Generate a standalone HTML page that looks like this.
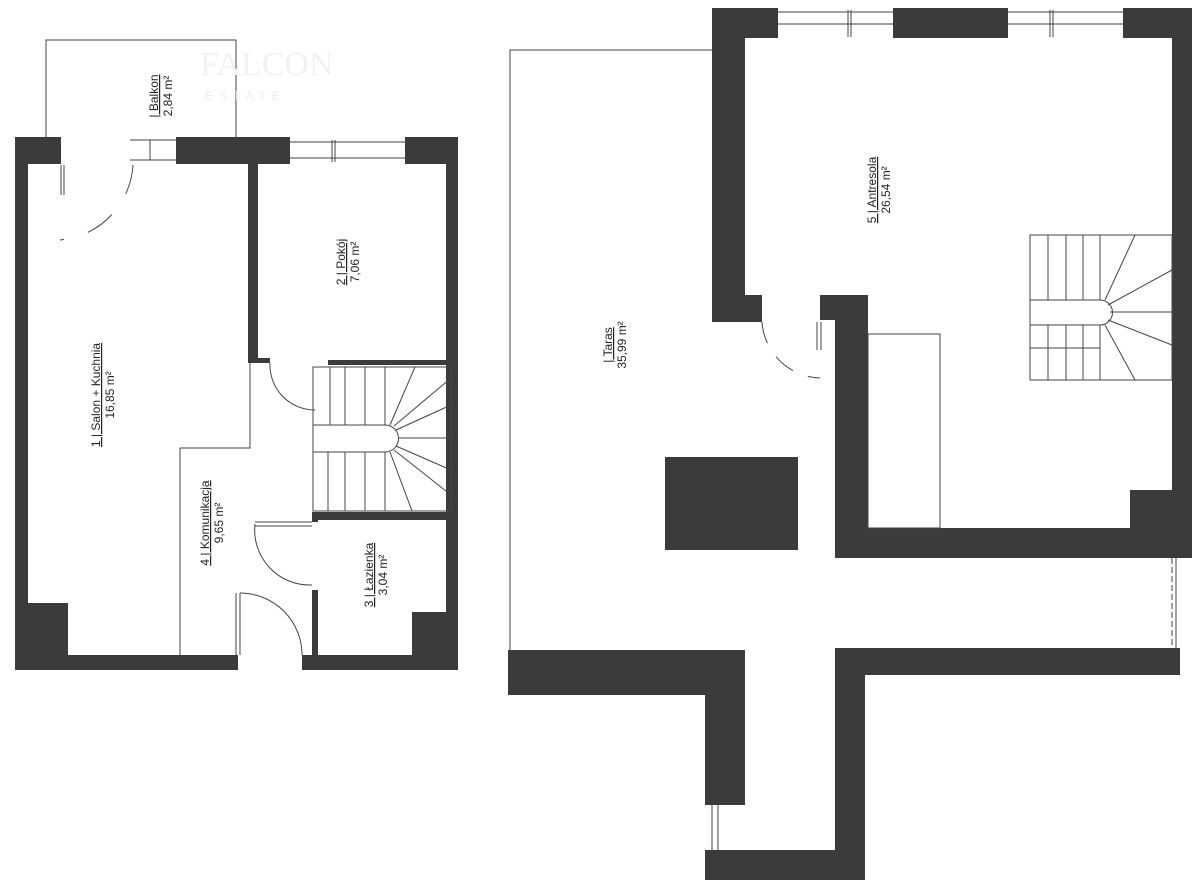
<!DOCTYPE html>
<html><head><meta charset="utf-8"><style>
html,body{margin:0;padding:0;background:#fff;}
svg{display:block;}
text{font-family:"Liberation Sans",sans-serif;font-size:12px;fill:#222;}
</style></head><body>
<svg width="1200" height="893" viewBox="0 0 1200 893" xmlns="http://www.w3.org/2000/svg">
<rect width="1200" height="893" fill="#fff"/>
<g fill="#3b3b3b">
<!-- LEFT PLAN -->
<rect x="15" y="137" width="46" height="27"/>
<rect x="15" y="137" width="13" height="533"/>
<rect x="176" y="137" width="114" height="27"/>
<rect x="405" y="137" width="53" height="27"/>
<rect x="446" y="137" width="12" height="523"/>
<rect x="15" y="603" width="53" height="67"/>
<rect x="15" y="655" width="223" height="15"/>
<rect x="302" y="655" width="156" height="15"/>
<rect x="412" y="612" width="46" height="48"/>
<rect x="248" y="164" width="10" height="198"/>
<rect x="248" y="358" width="22" height="5"/>
<rect x="328" y="360" width="130" height="5"/>
<rect x="312" y="512" width="146" height="8"/>
<rect x="312" y="512" width="6" height="10"/>
<rect x="312" y="590" width="6" height="70"/>
<!-- RIGHT PLAN -->
<rect x="712" y="8" width="66" height="30"/>
<rect x="893" y="8" width="115" height="30"/>
<rect x="1123" y="8" width="69" height="30"/>
<rect x="712" y="8" width="33" height="314"/>
<rect x="712" y="295" width="50" height="27"/>
<rect x="1172" y="8" width="20" height="550"/>
<rect x="820" y="295" width="48" height="25"/>
<rect x="835" y="295" width="33" height="263"/>
<rect x="835" y="528" width="350" height="30"/>
<rect x="1130" y="490" width="55" height="40"/>
<rect x="665" y="457" width="133" height="93"/>
<rect x="508" y="650" width="237" height="45"/>
<rect x="705" y="650" width="40" height="155"/>
<rect x="705" y="850" width="160" height="30"/>
<rect x="835" y="648" width="30" height="232"/>
<rect x="835" y="648" width="345" height="27"/>
</g>
<g fill="none" stroke="#444" stroke-width="1">
<!-- balcony -->
<polyline points="46,137 46,40 236,40 236,137"/>
<line x1="130" y1="140" x2="176" y2="140"/><line x1="130" y1="160" x2="176" y2="160"/>
<line x1="150" y1="140" x2="150" y2="160"/>
<line x1="290" y1="142" x2="405" y2="142"/><line x1="290" y1="158" x2="405" y2="158"/>
<line x1="332" y1="140" x2="332" y2="162"/><line x1="335" y1="140" x2="335" y2="162"/>
<line x1="61" y1="165" x2="61" y2="195"/><line x1="64" y1="165" x2="64" y2="195"/>
<path d="M133 165 A80 80 0 0 1 60 240" stroke-dasharray="30 25"/>
<!-- komunikacja -->
<polyline points="180,655 180,448 250,448 250,363"/>
<!-- stairs left -->
<path d="M270 363 A45 45 0 0 0 315 410"/>
<rect x="313" y="367" width="138" height="144"/>
<line x1="330" y1="367" x2="330" y2="425"/>
<line x1="313" y1="425" x2="385" y2="425"/>
<line x1="313" y1="452" x2="385" y2="452"/>
<path d="M385 425 A13 13 0 0 1 385 452"/>
<line x1="345" y1="367" x2="345" y2="425"/><line x1="365" y1="367" x2="365" y2="425"/><line x1="385" y1="367" x2="385" y2="425"/>
<line x1="328" y1="452" x2="328" y2="511"/><line x1="345" y1="452" x2="345" y2="511"/><line x1="365" y1="452" x2="365" y2="511"/><line x1="385" y1="452" x2="385" y2="511"/>
<line x1="398" y1="438" x2="451" y2="438"/><line x1="396" y1="430" x2="451" y2="405"/><line x1="394" y1="426" x2="451" y2="378"/><line x1="390" y1="425" x2="415" y2="367"/>
<line x1="396" y1="446" x2="451" y2="470"/><line x1="394" y1="450" x2="451" y2="495"/><line x1="390" y1="452" x2="412" y2="511"/>
<!-- bathroom door -->
<line x1="255" y1="522" x2="312" y2="522"/><line x1="255" y1="526" x2="312" y2="526"/>
<path d="M255 524 A55 55 0 0 0 312 585"/>
<line x1="236" y1="593" x2="236" y2="655"/><line x1="240" y1="593" x2="240" y2="655"/>
<path d="M240 593 A62 62 0 0 1 302 655"/>
<!-- RIGHT PLAN -->
<polyline points="510,650 510,50 712,50"/>
<line x1="778" y1="12" x2="893" y2="12"/><line x1="778" y1="24" x2="893" y2="24"/>
<line x1="848" y1="10" x2="848" y2="37"/><line x1="851" y1="10" x2="851" y2="37"/>
<line x1="1008" y1="12" x2="1123" y2="12"/><line x1="1008" y1="24" x2="1123" y2="24"/>
<line x1="1050" y1="10" x2="1050" y2="37"/><line x1="1053" y1="10" x2="1053" y2="37"/>
<line x1="817" y1="322" x2="817" y2="350"/><line x1="821" y1="322" x2="821" y2="350"/>
<path d="M762 322 A60 60 0 0 0 820 378" stroke-dasharray="22 16"/>
<rect x="868" y="334" width="72" height="194"/>
<rect x="1030" y="235" width="142" height="145"/>
<line x1="1030" y1="300" x2="1100" y2="300"/><line x1="1030" y1="325" x2="1100" y2="325"/>
<path d="M1100 300 A12.5 12.5 0 0 1 1100 325"/>
<line x1="1048" y1="235" x2="1048" y2="300"/><line x1="1066" y1="235" x2="1066" y2="300"/><line x1="1083" y1="235" x2="1083" y2="300"/><line x1="1100" y1="235" x2="1100" y2="300"/>
<line x1="1048" y1="325" x2="1048" y2="380"/><line x1="1066" y1="325" x2="1066" y2="380"/><line x1="1083" y1="325" x2="1083" y2="380"/><line x1="1100" y1="325" x2="1100" y2="380"/>
<line x1="1030" y1="348" x2="1100" y2="348"/>
<line x1="1110" y1="312" x2="1172" y2="312"/><line x1="1108" y1="305" x2="1172" y2="270"/><line x1="1105" y1="300" x2="1135" y2="235"/>
<line x1="1108" y1="320" x2="1172" y2="345"/><line x1="1105" y1="325" x2="1135" y2="380"/>
<line x1="1172" y1="558" x2="1172" y2="648" stroke-dasharray="6 3"/><line x1="1176" y1="558" x2="1176" y2="648"/>
<line x1="712" y1="805" x2="712" y2="850"/><line x1="718" y1="805" x2="718" y2="850"/>
</g>
<!-- labels -->
<g transform="translate(100,395) rotate(-90)"><text text-anchor="middle" text-decoration="underline">1 | Salon + Kuchnia</text><text y="14" text-anchor="middle">16,85 m²</text></g>
<g transform="translate(345,262) rotate(-90)"><text text-anchor="middle" text-decoration="underline">2 | Pokój</text><text y="14" text-anchor="middle">7,06 m²</text></g>
<g transform="translate(373,575) rotate(-90)"><text text-anchor="middle" text-decoration="underline">3 | Łazienka</text><text y="14" text-anchor="middle">3,04 m²</text></g>
<g transform="translate(209,523) rotate(-90)"><text text-anchor="middle" text-decoration="underline">4 | Komunikacja</text><text y="14" text-anchor="middle">9,65 m²</text></g>
<g transform="translate(158,96) rotate(-90)"><text text-anchor="middle" text-decoration="underline">| Balkon</text><text y="14" text-anchor="middle">2,84 m²</text></g>
<g transform="translate(876,190) rotate(-90)"><text text-anchor="middle" text-decoration="underline">5 | Antresola</text><text y="14" text-anchor="middle">26,54 m²</text></g>
<g transform="translate(612,345) rotate(-90)"><text text-anchor="middle" text-decoration="underline">| Taras</text><text y="14" text-anchor="middle">35,99 m²</text></g>
<text x="200" y="75" style="font-size:34px;fill:#f2f2f2;font-family:'Liberation Serif',serif">FALCON</text>
<text x="205" y="100" style="font-size:12px;fill:#eee;letter-spacing:6px">ESTATE</text>
</svg>
</body></html>
